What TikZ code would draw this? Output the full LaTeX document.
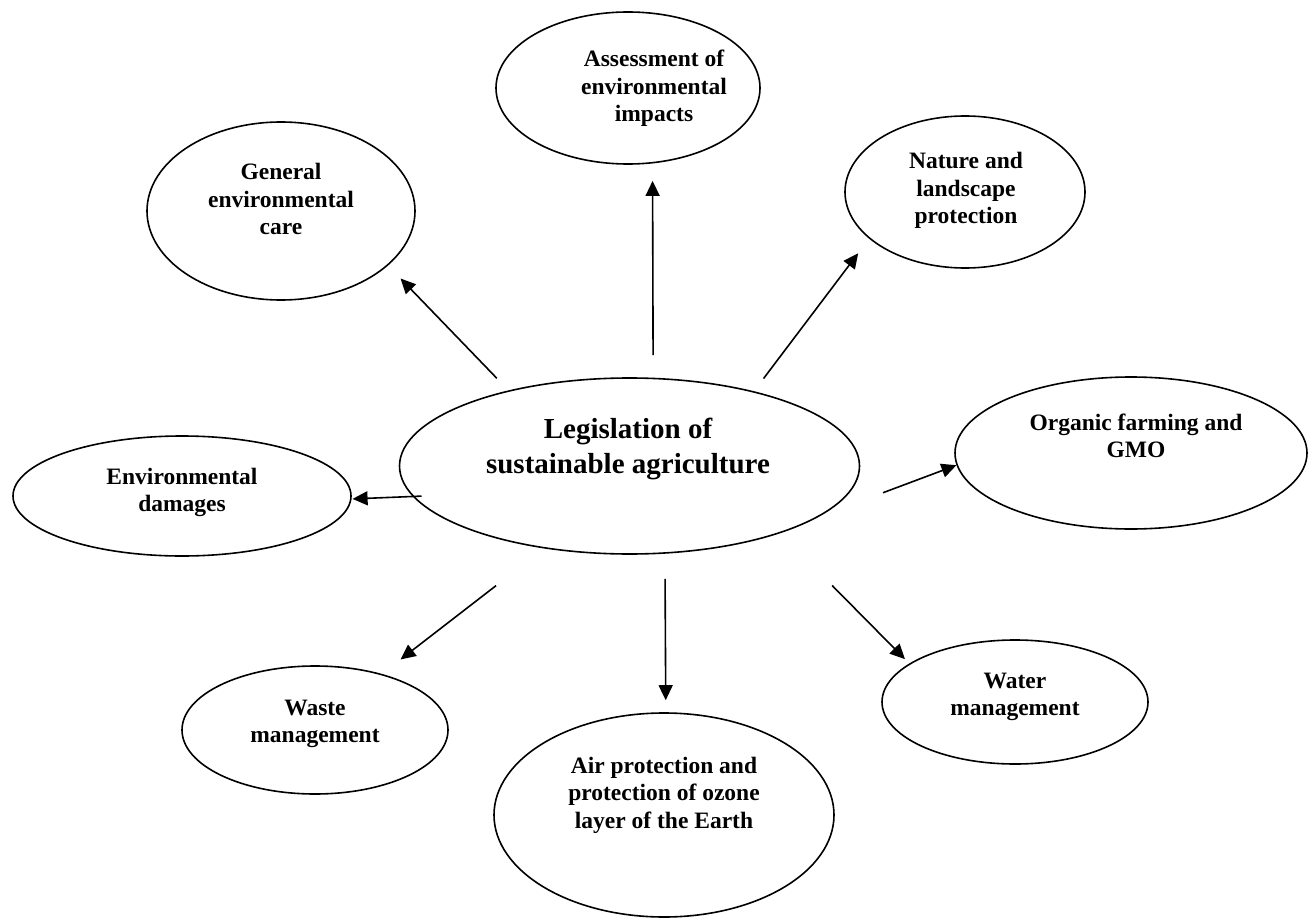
\documentclass[tikz,border=0pt]{standalone}
\usepackage{fontspec}
\setmainfont{Liberation Serif}
\usetikzlibrary{arrows.meta,shapes.geometric}
\tikzset{
  ell/.style={draw, ellipse, line width=1.6pt, inner sep=0pt},
  txt/.style={font=\bfseries\fontsize{23.5}{27.5}\selectfont, align=center, anchor=base},
  bigtxt/.style={font=\bfseries\fontsize{29}{35}\selectfont, align=center, anchor=base},
  arr/.style={line width=1.6pt, -{Triangle[length=15pt,width=14pt]}}
}
\begin{document}
\begin{tikzpicture}[x=1pt, y=-1pt]
    \useasboundingbox (0,0) rectangle (1309,920);
    % centre ellipse (text placed at the baseline of its last line)
    \node[ell, minimum width=460pt, minimum height=176pt] (legis) at (629.5,466) {};
    \node[bigtxt] (legis-t) at (628,473) {Legislation of\\sustainable agriculture};

    % outer ellipses
    \node[ell, minimum width=264pt, minimum height=152pt] (assess) at (628,88) {};
    \node[ell, minimum width=268pt, minimum height=178pt] (general) at (281,211) {};
    \node[ell, minimum width=240pt, minimum height=152pt] (nature) at (965,192) {};
    \node[ell, minimum width=352pt, minimum height=152pt] (organic) at (1131,453) {};
    \node[ell, minimum width=338pt, minimum height=120pt] (envdam) at (182,496) {};
    \node[ell, minimum width=266pt, minimum height=128pt] (waste) at (315,730) {};
    \node[ell, minimum width=340pt, minimum height=204pt] (air) at (664,815) {};
    \node[ell, minimum width=266pt, minimum height=124pt] (water) at (1015,702) {};

    % texts
    \node[txt] (assess-t) at (654,122) {Assessment of\\environmental\\impacts};
    \node[txt] (general-t) at (281,235) {General\\environmental\\care};
    \node[txt] (nature-t) at (966,224) {Nature and\\landscape\\protection};
    \node[txt] (organic-t) at (1136,457.5) {Organic farming and\\GMO};
    \node[txt] (envdam-t) at (182,511.5) {Environmental\\damages};
    \node[txt] (waste-t) at (315,742.5) {Waste\\management};
    \node[txt] (air-t) at (664,828) {Air protection and\\protection of ozone\\layer of the Earth};
    \node[txt] (water-t) at (1015,715.5) {Water\\management};

    % arrows: source anchor / target anchor / gap at tail / gap at tip
    \foreach \a/\b/\s/\t in {legis.148.2/general.333.1/16.8pt/18pt,
                             legis.75/assess.288.5/22.5pt/17.4pt,
                             legis.31.2/nature.206.2/15.9pt/18.2pt,
                             legis.345.3/organic.184.6/68.5pt/0pt,
                             legis.188.5/envdam.359.3/-8.8pt/1pt,
                             legis.224.1/waste.40/60.7pt/23.6pt,
                             legis.292.2/air.89.4/25.1pt/12pt,
                             legis.336.6/water.160.4/73.6pt/6.1pt}
        \draw[arr, shorten <=\s, shorten >=\t] (\a) -- (\b);
\end{tikzpicture}
\end{document}
